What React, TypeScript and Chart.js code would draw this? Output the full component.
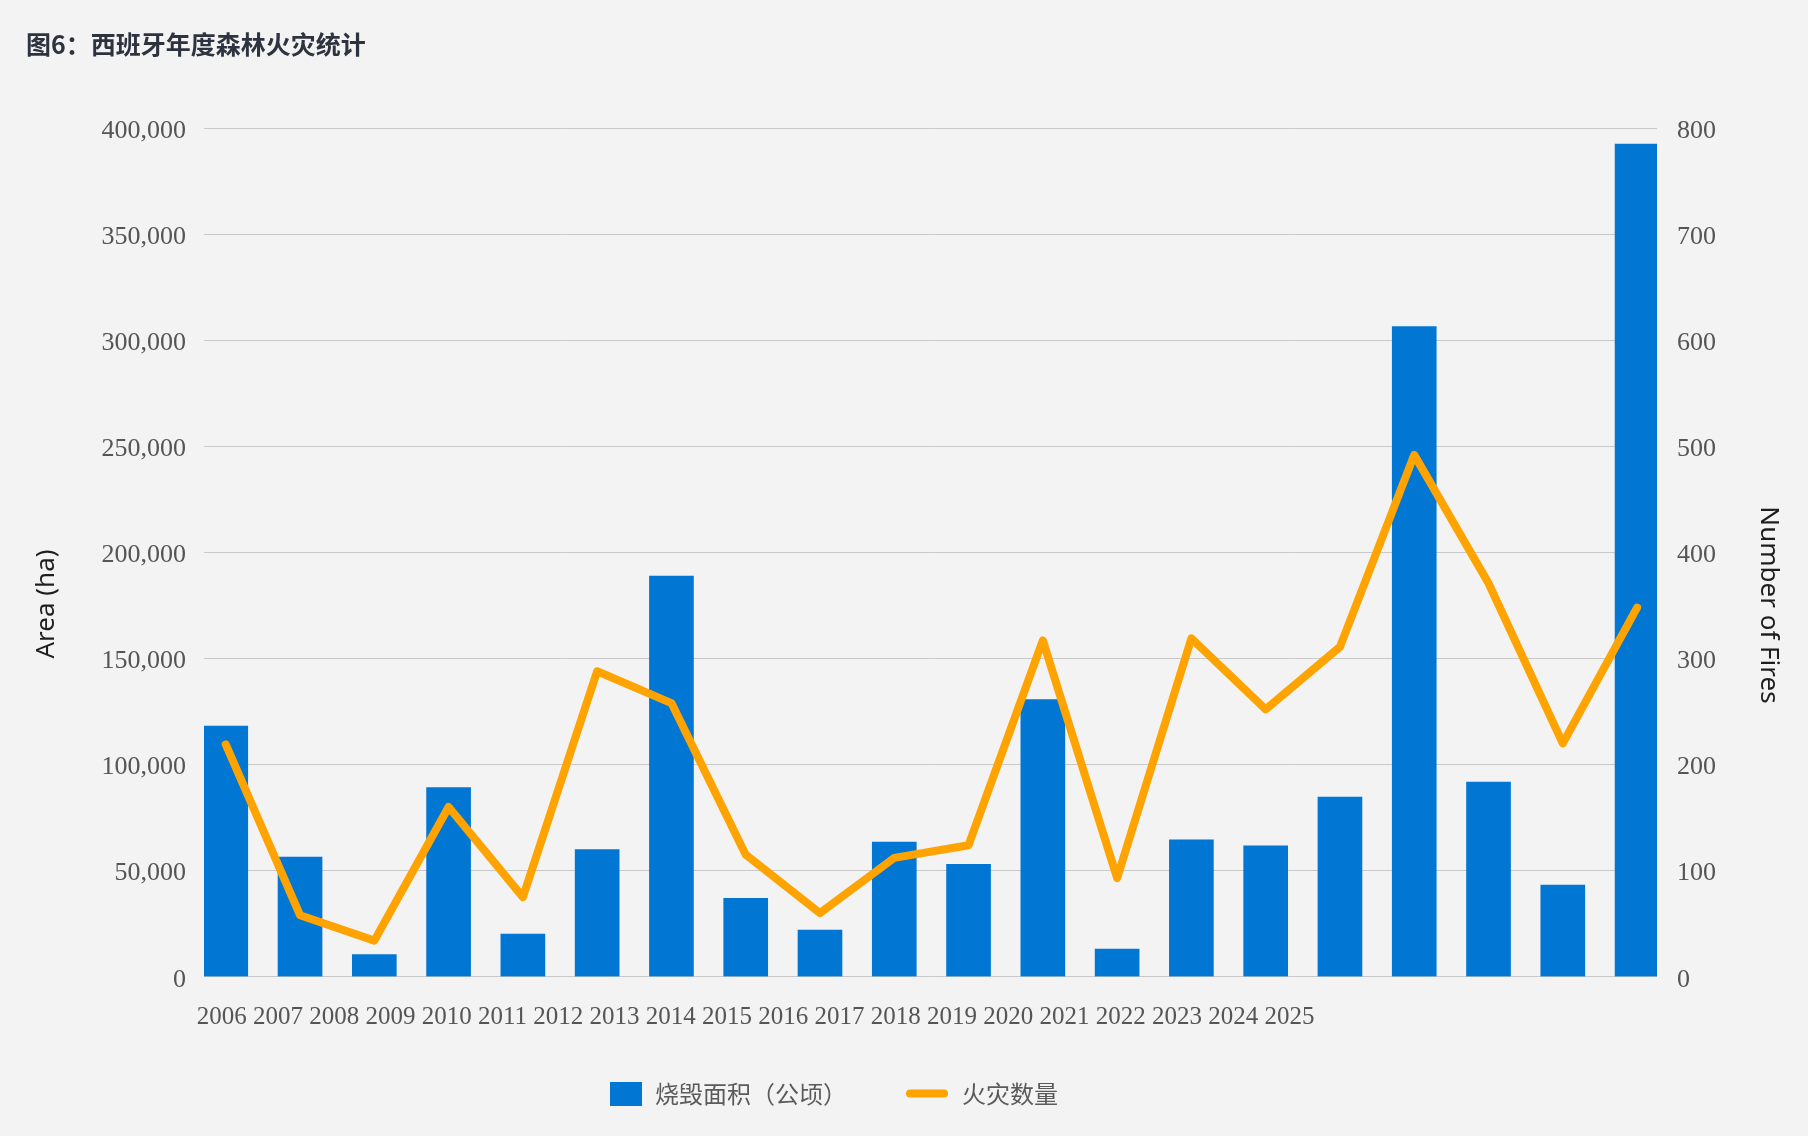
import React, { useEffect, useRef } from 'react';
import { Chart, registerables } from 'chart.js';

Chart.register(...registerables);

// ---- data ----
const CHART_TITLE = '图6：西班牙年度森林火灾统计';
const YEARS = ['2006', '2007', '2008', '2009', '2010', '2011', '2012', '2013', '2014', '2015',
  '2016', '2017', '2018', '2019', '2020', '2021', '2022', '2023', '2024', '2025'];
const AREA_HA = [118200, 56400, 10400, 89100, 20100, 59900, 188900, 37000, 22000, 63500,
  53000, 130600, 13000, 64500, 61700, 84700, 306500, 91700, 43200, 392500];
const FIRE_COUNT = [219, 58, 34, 160, 75, 288, 258, 115, 60, 112,
  124, 317, 93, 319, 252, 311, 492, 371, 220, 348];
const SERIES_LABELS = ['烧毁面积（公顷）', '火灾数量'];
const LEFT_AXIS_TITLE = 'Area (ha)';
const RIGHT_AXIS_TITLE = 'Number of Fires';
const AREA_MAX = 400000;
const AREA_STEP = 50000;
const FIRES_MAX = 800;
const FIRES_STEP = 100;

// ---- styles ----
const BG = '#f3f3f3';
const BLUE = '#0176d2';
const ORANGE = '#ffa300';
const GRID = '#c9c9c9';
const TICK_COLOR = '#555555';
const TICK_FONT = { family: '"Liberation Serif", serif', size: 26 };
const X_TICK_FONT = { family: '"Liberation Serif", serif', size: 25 };

const extraText = {
  id: 'extraText',
  beforeDraw(chart: any) {
    const { ctx, width, height } = chart;
    ctx.save();
    ctx.fillStyle = BG;
    ctx.fillRect(0, 0, width, height);
    ctx.restore();
  },
  afterDraw(chart: any) {
    const ctx = chart.ctx;
    ctx.save();
    // axis titles
    ctx.fillStyle = '#1e1e1e';
    ctx.font = '26px "Noto Sans", sans-serif';
    ctx.textAlign = 'center';
    ctx.textBaseline = 'middle';
    ctx.save();
    ctx.translate(47, 604);
    ctx.rotate(-Math.PI / 2);
    ctx.fillText(LEFT_AXIS_TITLE, 0, 0);
    ctx.restore();
    ctx.save();
    ctx.translate(1768, 605);
    ctx.rotate(Math.PI / 2);
    ctx.fillText(RIGHT_AXIS_TITLE, 0, 0);
    ctx.restore();

    // legend
    const ds = chart.data.datasets;
    const bar = ds.find((d: any) => d.type === 'bar');
    const line = ds.find((d: any) => d.type === 'line');
    ctx.font = '24px "Noto Sans CJK SC", sans-serif';
    ctx.textAlign = 'left';
    ctx.fillStyle = bar.backgroundColor;
    ctx.fillRect(610, 1082, 32, 24);
    ctx.fillStyle = '#5a5a5a';
    ctx.fillText(bar.label, 655, 1094);
    ctx.strokeStyle = line.borderColor;
    ctx.lineWidth = 8;
    ctx.lineCap = 'round';
    ctx.beginPath();
    ctx.moveTo(910, 1093.5);
    ctx.lineTo(944, 1093.5);
    ctx.stroke();
    ctx.fillStyle = '#5a5a5a';
    ctx.fillText(line.label, 962, 1094);
    ctx.restore();
  },
};

export default function App() {
  const ref = useRef<HTMLCanvasElement>(null);

  useEffect(() => {
    document.body.style.margin = '0';
    document.body.style.background = BG;
    const canvas = ref.current!;
    const chart = new Chart(canvas, {
      type: 'bar',
      data: {
        labels: YEARS,
        datasets: [
          {
            type: 'line',
            label: SERIES_LABELS[1],
            data: FIRE_COUNT,
            yAxisID: 'y1',
            borderColor: ORANGE,
            backgroundColor: ORANGE,
            borderWidth: 8,
            borderCapStyle: 'round',
            borderJoinStyle: 'round',
            pointRadius: 0,
            pointHoverRadius: 0,
            tension: 0,
            order: 0,
          } as any,
          {
            type: 'bar',
            label: SERIES_LABELS[0],
            data: AREA_HA,
            yAxisID: 'y',
            backgroundColor: BLUE,
            borderWidth: 0,
            barThickness: 44,
            order: 1,
          } as any,
        ],
      },
      options: {
        responsive: false,
        animation: false,
        devicePixelRatio: 1,
        layout: { padding: { left: 26, right: 0, top: 0, bottom: 0 } },
        plugins: {
          legend: { display: false },
          tooltip: { enabled: false },
          title: {
            display: true,
            text: CHART_TITLE,
            align: 'start',
            color: '#2d333f',
            font: { family: '"Noto Sans CJK SC", sans-serif', size: 25, weight: 'bold' },
            padding: { top: 29, bottom: 69.2 },
          },
        },
        scales: {
          x: {
            grid: { display: false },
            border: { display: false },
            ticks: {
              autoSkip: false,
              minRotation: 0,
              maxRotation: 0,
              align: 'start',
              labelOffset: -29,
              padding: 18,
              color: TICK_COLOR,
              font: X_TICK_FONT,
              callback: (_v: any, i: number) => (i === 0 ? YEARS.join(' ') : ''),
            },
            afterBuildTicks: (s: any) => {
              s._startValue = -0.2928;
              s._valueRange = 19.561;
            },
            afterFit: (s: any) => {
              s.height = 159.3;
            },
          },
          y: {
            position: 'left',
            min: 0,
            max: AREA_MAX,
            grid: { color: GRID, lineWidth: 1, drawTicks: false },
            border: { display: false },
            ticks: {
              stepSize: AREA_STEP,
              padding: 18,
              labelOffset: 3,
              color: TICK_COLOR,
              font: TICK_FONT,
              callback: (v: any) => Number(v).toLocaleString('en-US'),
            },
            afterFit: (s: any) => {
              s.width = 178;
            },
          },
          y1: {
            position: 'right',
            min: 0,
            max: FIRES_MAX,
            grid: { display: false, drawTicks: false },
            border: { display: false },
            ticks: {
              stepSize: FIRES_STEP,
              padding: 20,
              labelOffset: 3,
              color: TICK_COLOR,
              font: TICK_FONT,
            },
            afterFit: (s: any) => {
              s.width = 151;
            },
          },
        },
      } as any,
      plugins: [extraText],
    });
    return () => chart.destroy();
  }, []);

  return (
    <div style={{ width: 1808, height: 1136, background: BG }}>
      <canvas ref={ref} width={1808} height={1136} style={{ display: 'block' }} />
    </div>
  );
}
